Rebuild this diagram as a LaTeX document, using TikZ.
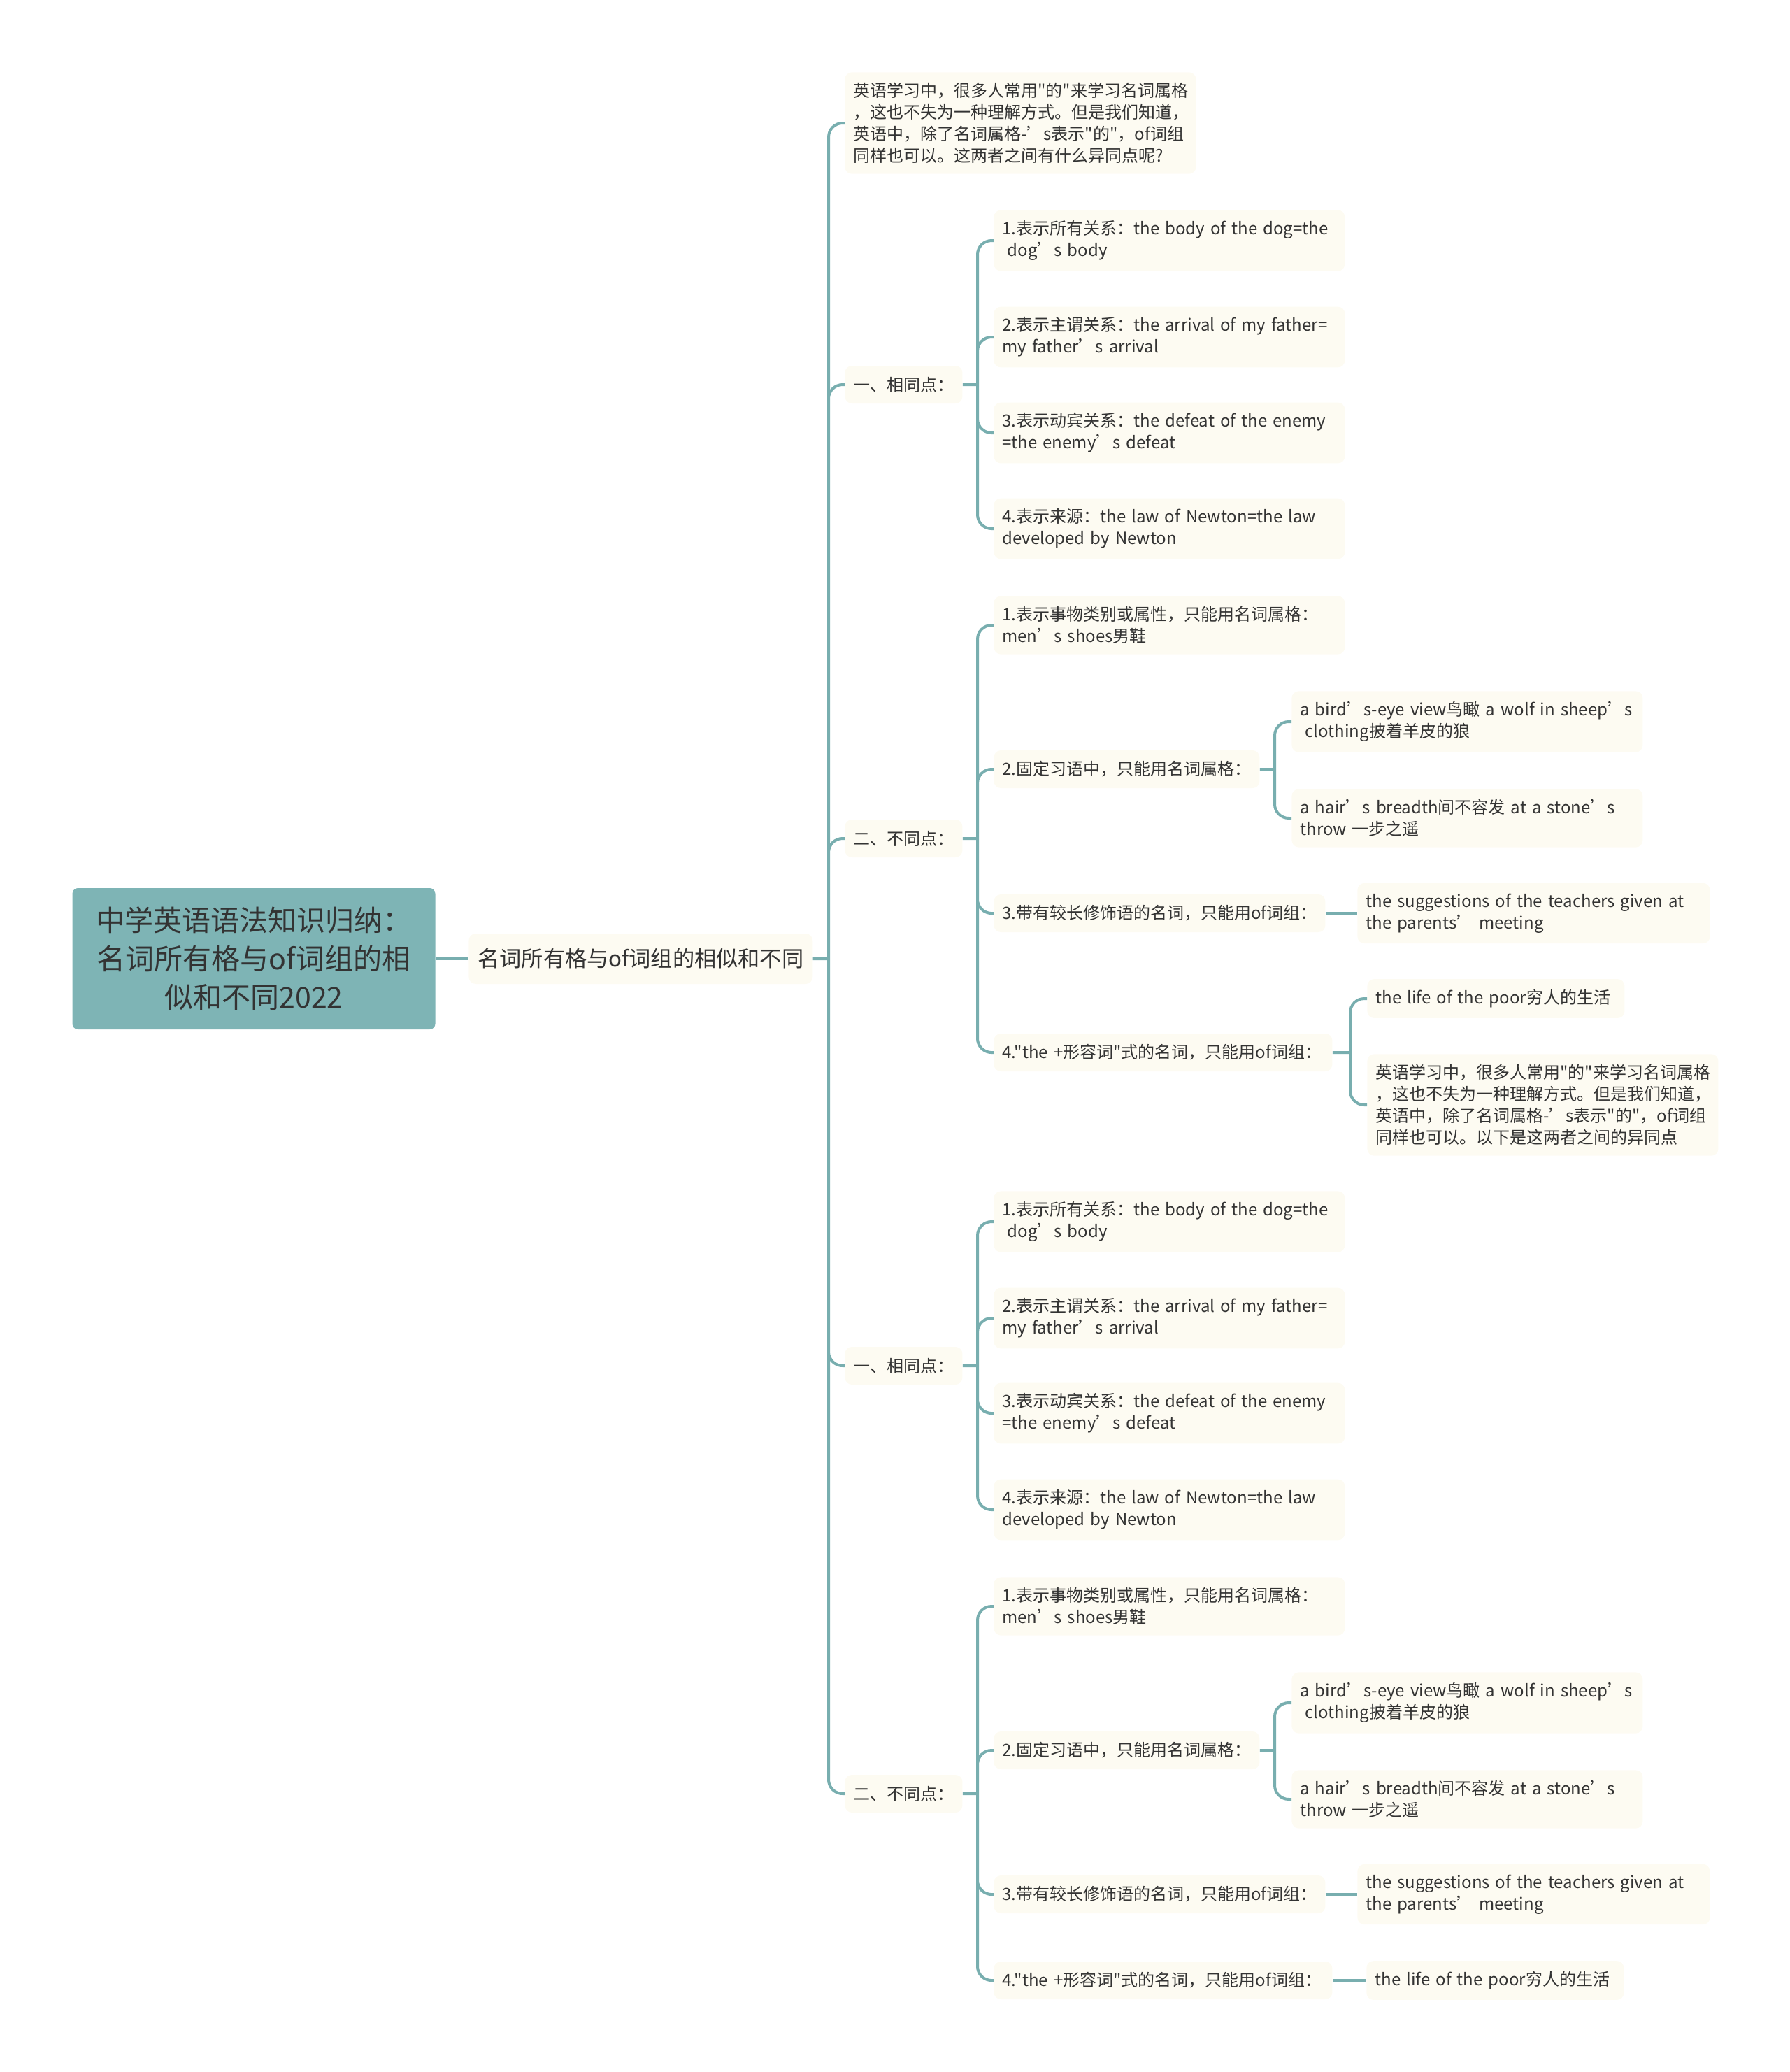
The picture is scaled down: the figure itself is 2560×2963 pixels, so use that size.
\documentclass[tikz,border=0pt]{standalone}
\usepackage{fontspec}
\newfontfamily\yh{Noto Sans CJK SC}
\definecolor{rootfill}{HTML}{7EB4B5}
\definecolor{linkcol}{HTML}{78AEAF}
\definecolor{leaffill}{HTML}{FDFBF2}
\definecolor{inkcol}{HTML}{333333}

\begin{document}
\begin{tikzpicture}[x=0.5pt, y=-0.5pt,
  root/.style={shape=rectangle, rounded corners=4pt, fill=rootfill, text=inkcol, align=center, minimum width=259.5pt, minimum height=101pt, inner sep=6pt, font=\yh\fontsize{20.5}{27.6}\selectfont},
  topic/.style={shape=rectangle, rounded corners=5pt, fill=leaffill, text=inkcol, anchor=west, inner xsep=6.5pt, minimum height=36pt, font=\yh\fontsize{15.6}{20}\selectfont},
  leaf/.style={shape=rectangle, rounded corners=5pt, fill=leaffill, text=inkcol, anchor=west, align=left, text width=#1, inner xsep=6pt, inner ysep=7.5pt, minimum height=27pt, font=\yh\fontsize{12}{15.5}\selectfont},
  leaf/.default=239pt,
  link/.style={draw=linkcol, line width=2pt, rounded corners=10pt},
]
\useasboundingbox (0,0) rectangle (2560,2963);

%root
\node[root] (root) at (363,1371) {中学英语语法知识归纳：\\名词所有格与of词组的相\\似和不同2022};
\node[topic] (topic) at (670,1371) {名词所有格与of词组的相似和不同};

%second level
\node[leaf] (intro) at (1208,176) {英语学习中，很多人常用"的"来学习名词属格\\，这也不失为一种理解方式。但是我们知道，\\英语中，除了名词属格-’s表示"的"，of词组\\同样也可以。这两者之间有什么异同点呢?};
\node[leaf=72pt] (same1) at (1208,550) {一、相同点：};
\node[leaf=72pt] (diff1) at (1208,1199) {二、不同点：};
\node[leaf=72pt] (same2) at (1208,1953) {一、相同点：};
\node[leaf=72pt] (diff2) at (1208,2565) {二、不同点：};

%same points, first
\node[leaf] (s1a) at (1421,344) {1.表示所有关系：the body of the dog=the\\\hspace*{0.3em}dog’s body};
\node[leaf] (s1b) at (1421,482) {2.表示主谓关系：the arrival of my father=\\my father’s arrival};
\node[leaf] (s1c) at (1421,619) {3.表示动宾关系：the defeat of the enemy\\=the enemy’s defeat};
\node[leaf] (s1d) at (1421,756) {4.表示来源：the law of Newton=the law\\developed by Newton};

%different points, first
\node[leaf] (d1a) at (1421,894) {1.表示事物类别或属性，只能用名词属格：\\men’s shoes男鞋};
\node[leaf=178pt] (d1b) at (1421,1100) {2.固定习语中，只能用名词属格：};
\node[leaf=225pt] (d1c) at (1421,1306) {3.带有较长修饰语的名词，只能用of词组：};
\node[leaf=230pt] (d1d) at (1421,1505) {4."the +形容词"式的名词，只能用of词组：};

\node[leaf] (d1b1) at (1847,1032) {a bird’s-eye view鸟瞰 a wolf in sheep’s\\\hspace*{0.3em}clothing披着羊皮的狼};
\node[leaf] (d1b2) at (1847,1170) {a hair’s breadth间不容发 at a stone’s\\throw 一步之遥};
\node[leaf=240pt] (d1c1) at (1941,1306) {the suggestions of the teachers given at\\the parents’ meeting};
\node[leaf=172pt] (d1d1) at (1955,1428) {the life of the poor穷人的生活};
\node[leaf] (d1d2) at (1955,1580) {英语学习中，很多人常用"的"来学习名词属格\\，这也不失为一种理解方式。但是我们知道，\\英语中，除了名词属格-’s表示"的"，of词组\\同样也可以。以下是这两者之间的异同点};

%same points, second
\node[leaf] (s2a) at (1421,1747) {1.表示所有关系：the body of the dog=the\\\hspace*{0.3em}dog’s body};
\node[leaf] (s2b) at (1421,1885) {2.表示主谓关系：the arrival of my father=\\my father’s arrival};
\node[leaf] (s2c) at (1421,2021) {3.表示动宾关系：the defeat of the enemy\\=the enemy’s defeat};
\node[leaf] (s2d) at (1421,2159) {4.表示来源：the law of Newton=the law\\developed by Newton};

%different points, second
\node[leaf] (d2a) at (1421,2297) {1.表示事物类别或属性，只能用名词属格：\\men’s shoes男鞋};
\node[leaf=178pt] (d2b) at (1421,2503) {2.固定习语中，只能用名词属格：};
\node[leaf=225pt] (d2c) at (1421,2709) {3.带有较长修饰语的名词，只能用of词组：};
\node[leaf=230pt] (d2d) at (1421,2832) {4."the +形容词"式的名词，只能用of词组：};

\node[leaf] (d2b1) at (1847,2435) {a bird’s-eye view鸟瞰 a wolf in sheep’s\\\hspace*{0.3em}clothing披着羊皮的狼};
\node[leaf] (d2b2) at (1847,2573) {a hair’s breadth间不容发 at a stone’s\\throw 一步之遥};
\node[leaf=240pt] (d2c1) at (1941,2709) {the suggestions of the teachers given at\\the parents’ meeting};
\node[leaf=172pt] (d2d1) at (1954,2832) {the life of the poor穷人的生活};

%branch points
\coordinate (jtopic) at (1185,1371);
\coordinate (jsame1) at (1398,550);
\coordinate (jdiff1) at (1398,1199);
\coordinate (jd1b) at (1823,1100);
\coordinate (jd1d) at (1931,1505);
\coordinate (jsame2) at (1398,1953);
\coordinate (jdiff2) at (1398,2565);
\coordinate (jd2b) at (1823,2503);

%links
\draw[link] (root) -- (topic);
\draw[link] (topic) -- (jtopic) (jtopic) |- (intro.west) (jtopic) |- (same1.west)
  (jtopic) |- (diff1.west) (jtopic) |- (same2.west) (jtopic) |- (diff2.west);

\draw[link] (same1) -- (jsame1) (jsame1) |- (s1a.west) (jsame1) |- (s1b.west)
  (jsame1) |- (s1c.west) (jsame1) |- (s1d.west);
\draw[link] (diff1) -- (jdiff1) (jdiff1) |- (d1a.west) (jdiff1) |- (d1b.west)
  (jdiff1) |- (d1c.west) (jdiff1) |- (d1d.west);
\draw[link] (d1b) -- (jd1b) (jd1b) |- (d1b1.west) (jd1b) |- (d1b2.west);
\draw[link] (d1c) -- (d1c1);
\draw[link] (d1d) -- (jd1d) (jd1d) |- (d1d1.west) (jd1d) |- (d1d2.west);

\draw[link] (same2) -- (jsame2) (jsame2) |- (s2a.west) (jsame2) |- (s2b.west)
  (jsame2) |- (s2c.west) (jsame2) |- (s2d.west);
\draw[link] (diff2) -- (jdiff2) (jdiff2) |- (d2a.west) (jdiff2) |- (d2b.west)
  (jdiff2) |- (d2c.west) (jdiff2) |- (d2d.west);
\draw[link] (d2b) -- (jd2b) (jd2b) |- (d2b1.west) (jd2b) |- (d2b2.west);
\draw[link] (d2c) -- (d2c1);
\draw[link] (d2d) -- (d2d1);

\end{tikzpicture}
\end{document}
